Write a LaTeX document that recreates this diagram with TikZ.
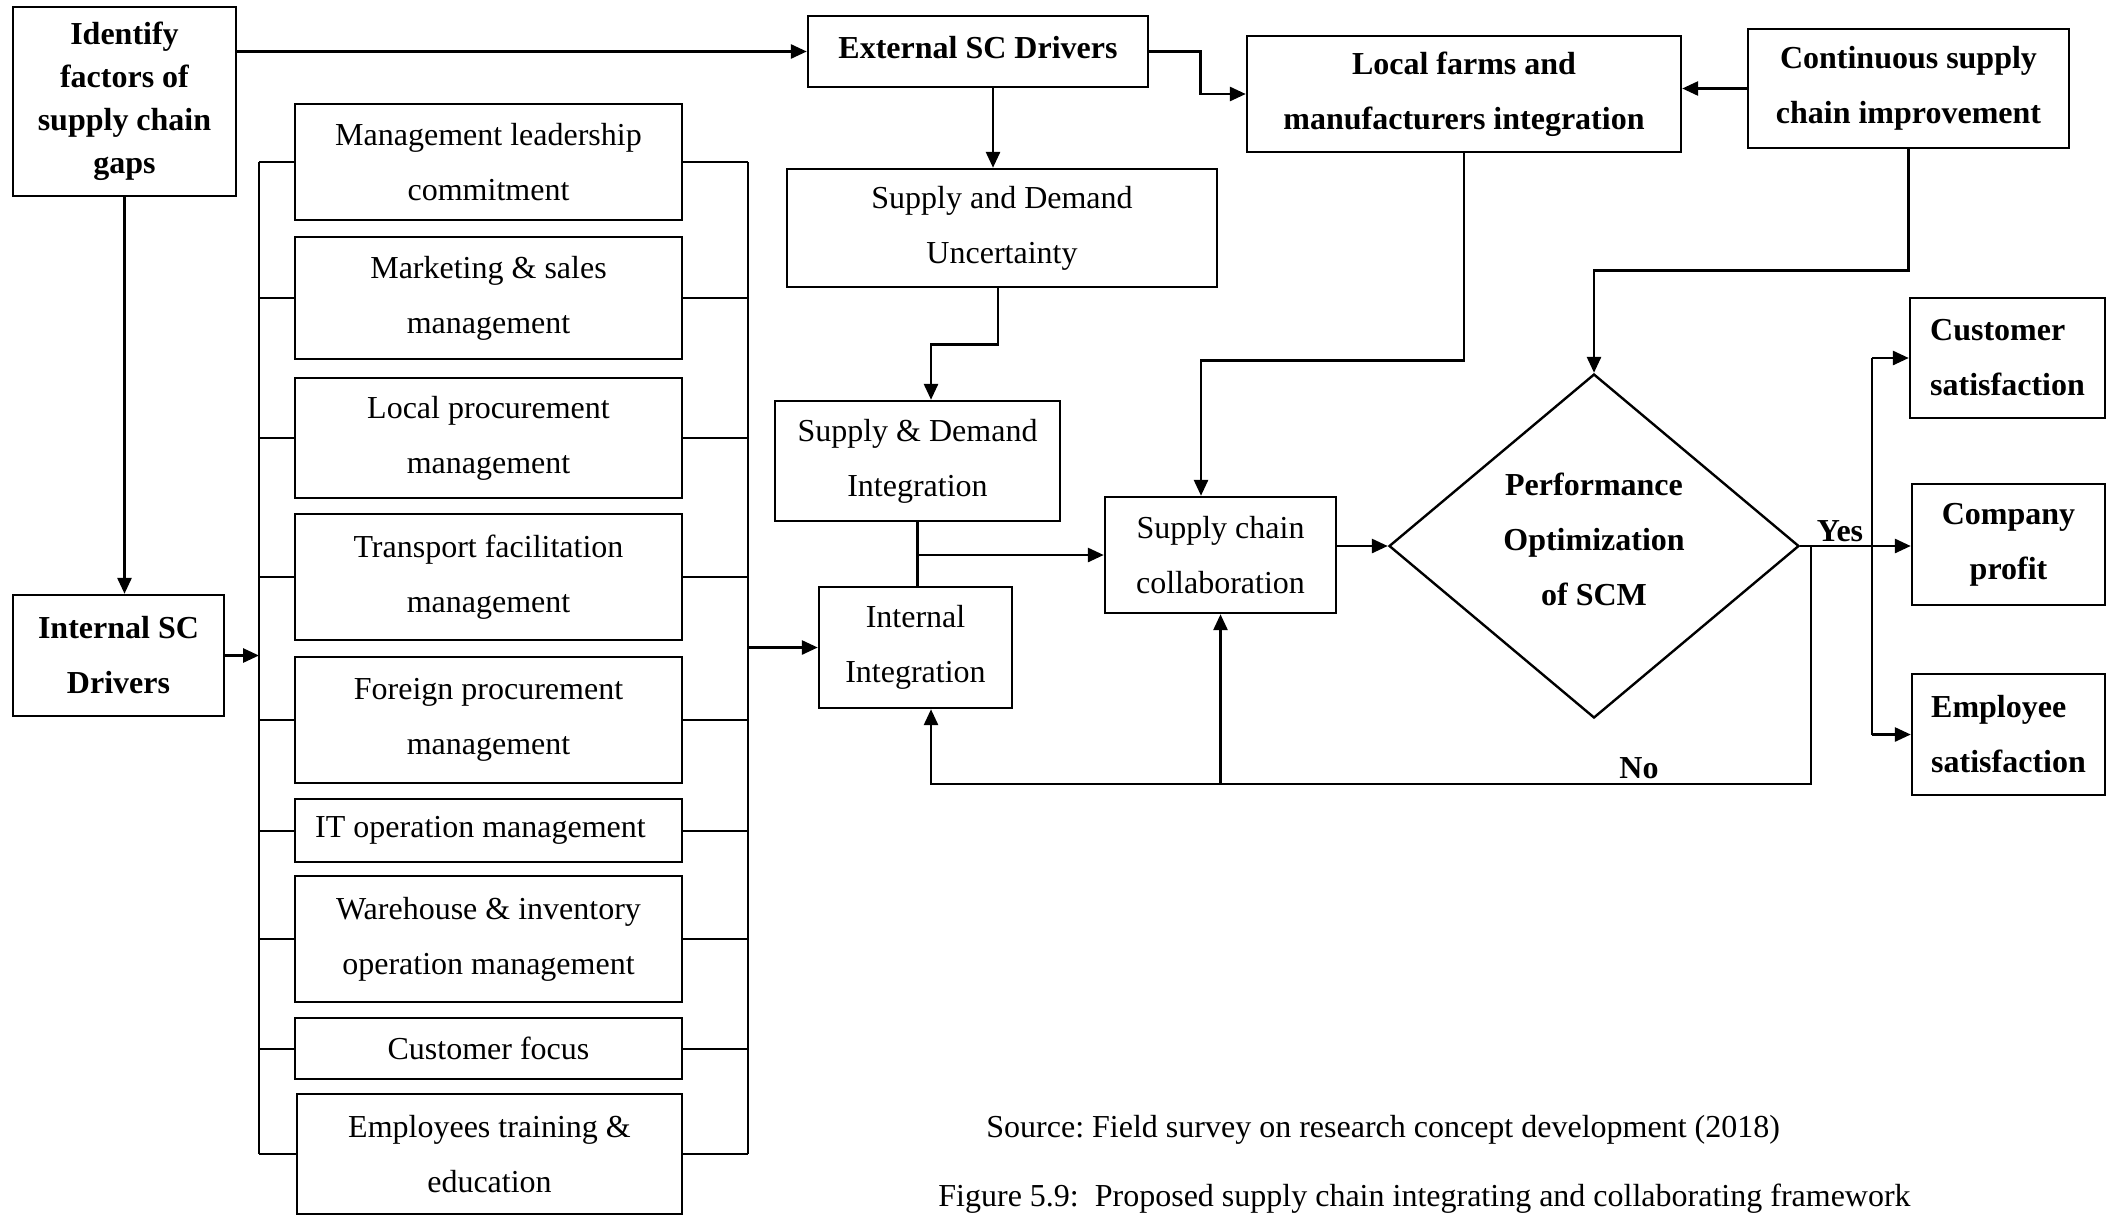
\documentclass[tikz,border=0pt]{standalone}
\usepackage{fontspec}
\setmainfont{Liberation Serif}
\usetikzlibrary{arrows.meta,shapes.geometric}
\newcommand\regfont{\fontsize{16}{27.5}\selectfont}
\newcommand\boldfont{\fontsize{16}{27.5}\selectfont\bfseries}
\newcommand\tightbold{\fontsize{16}{21.5}\selectfont\bfseries}
\frenchspacing
\begin{document}
\begin{tikzpicture}[x=0.5pt,y=-0.5pt,
  box/.style={draw, line width=1.2pt, inner sep=0pt, align=center, font=\regfont},
  bbox/.style={box, font=\boldfont},
  sz/.style 2 args={minimum width=#1*0.5pt, minimum height=#2*0.5pt},
  link/.style={line width=1.4pt},
  arr/.style={link, -{Triangle[length=8pt,width=7pt]}},
  tick/.style={line width=1pt},
  lbl/.style={font=\boldfont, inner sep=0pt},
  note/.style={font=\regfont, inner sep=0pt, anchor=west}]
\useasboundingbox (0,0) rectangle (2107,1216);

% ---- drivers ----
\node[bbox, font=\tightbold, sz={223}{189}] (ident) at (124.5,101.5) {Identify\\factors of\\supply chain\\gaps};
\node[bbox, sz={211}{121}] (intsc) at (118.5,655.5) {Internal SC\\Drivers};
\node[bbox, sz={340}{71}, text depth=4.5pt] (ext) at (978,51.5) {External SC Drivers};

% ---- internal driver list ----
\node[box, sz={387}{116}] (m1) at (488.5,162)  {Management leadership\\commitment};
\node[box, sz={387}{122}] (m2) at (488.5,298)  {Marketing \& sales\\management};
\node[box, sz={387}{120}] (m3) at (488.5,438)  {Local procurement\\management};
\node[box, sz={387}{126}] (m4) at (488.5,577)  {Transport facilitation\\management};
\node[box, sz={387}{126}] (m5) at (488.5,720)  {Foreign procurement\\management};
\node[box, sz={387}{63}]  (m6) at (488.5,830.5) {IT operation management\hspace{8pt}};
\node[box, sz={387}{126}] (m7) at (488.5,939)  {Warehouse \& inventory\\operation management};
\node[box, sz={387}{61}]  (m8) at (488.5,1048.5) {Customer focus};
\node[box, sz={385}{120}] (m9) at (489.5,1154) {Employees training \&\\education};

\coordinate (lx) at (259,0);
\coordinate (rx) at (748,0);
\foreach \n in {m1,m2,m3,m4,m5,m6,m7,m8,m9} {
  \draw[tick] (\n.west -| lx) -- (\n.west);
  \draw[tick] (\n.east) -- (\n.east -| rx);
}
\draw[tick] (m1.west -| lx) -- (m9.west -| lx);
\draw[tick] (m1.east -| rx) -- (m9.east -| rx);

% ---- integration chain ----
\node[box, sz={430}{118}] (uncert) at (1002,228) {Supply and Demand\\Uncertainty};
\node[box, sz={285}{120}] (sdi) at (917.5,461) {Supply \& Demand\\Integration};
\node[box, sz={193}{121}] (intint) at (915.5,647.5) {Internal\\Integration};
\node[box, sz={231}{116}] (scc) at (1220.5,555) {Supply chain\\collaboration};
\node[bbox, sz={434}{116}] (local) at (1464,94) {Local farms and\\manufacturers integration};
\node[bbox, sz={321}{119}] (cont) at (1908.5,88.5) {Continuous supply\\chain improvement};

\node[diamond, draw, line width=1.2pt, inner sep=0pt, align=center, font=\boldfont,
      text depth=6.5pt, minimum width=205pt, minimum height=172pt] (perf) at (1594,546)
      {Performance\\Optimization\\of SCM};

% ---- outcomes ----
\node[bbox, align=left, sz={195}{120}] (cust) at (2007.5,358) {Customer\\satisfaction};
\node[bbox, sz={193}{121}] (comp) at (2008.5,544.5) {Company\\profit};
\node[bbox, align=left, sz={193}{121}] (emp) at (2008.5,734.5) {Employee\\satisfaction};

% ---- connectors ----
\draw[arr] (ident.east |- ext.west) -- (ext.west);
\draw[arr] (ident.south) -- (ident.south |- intsc.north);
\draw[arr] (intsc.east) -- (intsc.east -| lx);
\draw[arr] (intint.west -| rx) -- (intint.west);

\draw[arr] (ext.east) -- ++(51,0) |- (local.west);
\draw[arr] ([xshift=7.5pt]ext.south) -- ([xshift=7.5pt]ext.south |- uncert.north);
\draw[arr] ([xshift=-2pt]uncert.south) -- ++(0,56) -| ([xshift=6.75pt]sdi.north);
\draw[link] (sdi.south) -- (sdi.south |- intint.north);
\draw[arr] (sdi.south |- scc.west) -- (scc.west);

\draw[arr] (local.south) -- ++(0,207) -| ([xshift=-9.75pt]scc.north);
\draw[arr] (cont.west) -- (cont.west -| local.east);
\draw[arr] (cont.south) -- ++(0,121) -| (perf.north);
\draw[arr] (scc.east |- perf.west) -- (perf.west);

% yes branch
\coordinate (yx) at (1872,546);
\draw[arr] (perf.east) -- (perf.east -| comp.west);
\draw[link] (yx |- cust.west) -- (yx |- emp.west);
\draw[arr] (yx |- cust.west) -- (cust.west);
\draw[arr] (yx |- emp.west) -- (emp.west);
\node[lbl] (yes) at (1840,531) {Yes};

% no loop
\coordinate (nx) at (1811,546);
\coordinate (nb) at (1811,784);
\draw[arr] (nx) -- (nb) -| ([xshift=7.75pt]intint.south);
\draw[arr] (nb -| scc.south) -- (scc.south);
\node[lbl] (no) at (1639,768) {No};

% ---- captions ----
\node[note] (src) at (986,1130) {Source: Field survey on research concept development (2018)};
\node[note] (fig) at (938,1199) {Figure 5.9:\ \ Proposed supply chain integrating and collaborating framework};
\end{tikzpicture}
\end{document}
